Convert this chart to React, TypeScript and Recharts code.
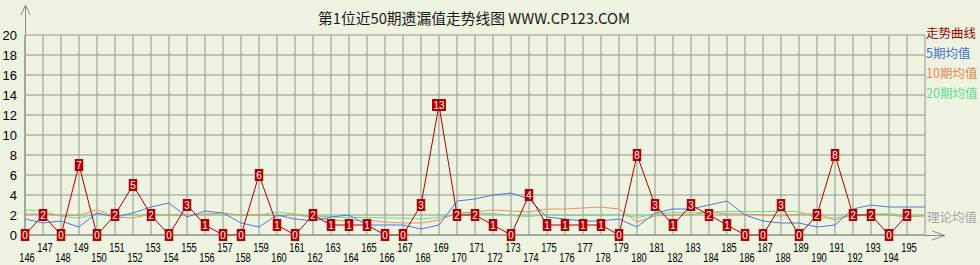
import React from 'react';
import { LineChart, Line, XAxis, YAxis, CartesianGrid } from 'recharts';

const periods = [146,147,148,149,150,151,152,153,154,155,156,157,158,159,160,161,162,163,164,165,166,167,168,169,170,171,172,173,174,175,176,177,178,179,180,181,182,183,184,185,186,187,188,189,190,191,192,193,194,195];
const trend = [0,2,0,7,0,2,5,2,0,3,1,0,0,6,1,0,2,1,1,1,0,0,3,13,2,2,1,0,4,1,1,1,1,0,8,3,1,3,2,1,0,0,3,0,2,8,2,2,0,2];
const ma5 = [1.6,1.2,1.4,0.8,2.2,1.8,2.2,2.8,3.2,1.8,2.4,2.2,1.2,0.8,2.0,1.6,1.4,1.8,2.0,1.0,1.0,1.0,0.6,1.0,3.4,3.6,4.0,4.2,3.6,1.8,1.6,1.4,1.4,1.6,0.8,2.2,2.6,2.6,3.0,3.4,2.0,1.4,1.2,1.2,0.8,1.0,2.6,3.0,2.8,2.8,2.8];
const ma10 = [2.1,2.1,2.0,1.95,2.55,1.8,1.7,2.1,2.0,2.0,2.1,2.2,2.0,2.0,1.9,2.0,1.8,1.5,1.4,1.5,1.3,1.2,1.2,1.5,2.2,2.3,2.5,2.4,2.3,2.6,2.6,2.7,2.8,2.6,1.3,1.9,2.0,2.0,2.3,2.1,2.1,2.0,1.9,2.1,2.1,1.5,2.0,2.1,2.0,1.8,1.9];
const ma20 = [2.5,2.4,1.85,1.7,2.15,1.9,2.0,2.0,2.0,2.0,2.0,2.0,2.0,2.0,2.3,2.1,1.9,1.8,1.75,1.75,1.7,1.7,1.6,1.75,2.05,2.15,2.15,1.95,1.85,2.05,1.95,1.95,2.0,2.05,1.75,2.1,2.25,2.2,2.3,2.35,2.35,2.35,2.35,2.35,1.7,1.7,2.0,2.05,2.15,1.95,2.0];
const yTicks = [0,2,4,6,8,10,12,14,16,18,20];
const title = '第1位近50期遗漏值走势线图 WWW.CP123.COM';
const legendItems = [
  { name: '走势曲线', color: '#A00000' },
  { name: '5期均值', color: '#3F6FD6' },
  { name: '10期均值', color: '#F08050' },
  { name: '20期均值', color: '#58E08C' },
];
const theoryLabel = '理论均值';

const data = ma5.map((_, i) => ({
  idx: i,
  period: periods[i],
  trend: i < trend.length ? trend[i] : null,
  ma5: ma5[i],
  ma10: ma10[i],
  ma20: ma20[i],
}));
const xTicks = data.map((d) => d.idx);

const BG = '#EEF3E1';
const GRID = '#8C978C';
const AXIS = '#8A8A8A';

const XTick = (props: any) => {
  const { x, y, payload } = props;
  const i = payload.value;
  if (i >= periods.length) return <g />;
  const odd = i % 2 === 1;
  return (
    <text
      x={x + 2}
      y={y + (odd ? 17 : 27)}
      textAnchor="middle"
      fontSize={12.5}
      fontFamily="Liberation Sans, Arial, sans-serif"
      fill="#000"
      textLength={15.5}
      lengthAdjust="spacingAndGlyphs"
    >
      {periods[i]}
    </text>
  );
};

const Box = (props: any) => {
  const { cx, cy, value, index } = props;
  if (value === null || value === undefined || cx == null || cy == null) return <g key={'b' + index} />;
  const s = String(value);
  const w = s.length * 5.5 + 3;
  const h = 12;
  return (
    <g key={'b' + index}>
      <rect x={cx - w / 2} y={cy - h / 2} width={w} height={h} fill="#B40000" />
      <text
        x={cx}
        y={cy + 4.2}
        textAnchor="middle"
        fontSize={11.5}
        fontFamily="Liberation Sans, Arial, sans-serif"
        fill="#FFFFFF"
        textLength={s.length * 5.5}
        lengthAdjust="spacingAndGlyphs"
      >
        {s}
      </text>
    </g>
  );
};

export default function App() {
  return (
    <div style={{ position: 'relative', width: 980, height: 265, background: BG, overflow: 'hidden' }}>
      <style>{`body{margin:0}`}</style>
      <LineChart
        width={980}
        height={265}
        data={data}
        margin={{ top: 35, right: 55, bottom: 0, left: 0 }}
      >
        <CartesianGrid stroke={GRID} strokeWidth={1} />
        <XAxis
          dataKey="idx"
          type="number"
          domain={[0, 50]}
          ticks={xTicks}
          interval={0}
          height={30}
          tickLine={false}
          tickSize={0}
          tickMargin={0}
          axisLine={{ stroke: AXIS }}
          tick={<XTick />}
        />
        <YAxis
          type="number"
          domain={[0, 20]}
          ticks={yTicks}
          interval={0}
          width={25}
          tickLine={false}
          tickSize={0}
          tickMargin={8}
          axisLine={{ stroke: AXIS }}
          tick={{ fontSize: 13, fill: '#000', fontFamily: 'Liberation Sans, Arial, sans-serif' }}
        />
        <Line dataKey="ma20" stroke="#66E08E" strokeWidth={1} dot={false} isAnimationActive={false} />
        <Line dataKey="ma10" stroke="#F09060" strokeWidth={1} dot={false} isAnimationActive={false} />
        <Line dataKey="ma5" stroke="#4A7BDA" strokeWidth={1} dot={false} isAnimationActive={false} />
        <Line
          dataKey="trend"
          stroke="#A80000"
          strokeWidth={1}
          dot={<Box />}
          activeDot={false}
          isAnimationActive={false}
        />
      </LineChart>
      <svg
        width={980}
        height={265}
        style={{ position: 'absolute', left: 0, top: 0, pointerEvents: 'none' }}
      >
        <line x1={25.5} y1={5} x2={25.5} y2={35} stroke={AXIS} />
        <polyline points="21,15 25.5,5 30,15" fill="none" stroke={AXIS} />
        <line x1={925} y1={235.5} x2={944} y2={235.5} stroke={AXIS} />
        <polyline points="932,231 945,235.5 932,240" fill="none" stroke={AXIS} />
        <text
          x={474}
          y={24}
          textAnchor="middle"
          fontSize={15}
          fontFamily="Noto Sans CJK SC, sans-serif"
          fill="#1A1A1A"
          textLength={312}
          lengthAdjust="spacingAndGlyphs"
        >
          {title}
        </text>
        {legendItems.map((it, i) => (
          <text
            key={it.name}
            x={926}
            y={32 + i * 20}
            dominantBaseline="central"
            fontSize={12.5}
            fontFamily="Noto Sans CJK SC, sans-serif"
            fill={it.color}
          >
            {it.name}
          </text>
        ))}
        <text
          x={927}
          y={216}
          dominantBaseline="central"
          fontSize={12.5}
          fontFamily="Noto Sans CJK SC, sans-serif"
          fill="#A8A8A8"
        >
          {theoryLabel}
        </text>
      </svg>
    </div>
  );
}
